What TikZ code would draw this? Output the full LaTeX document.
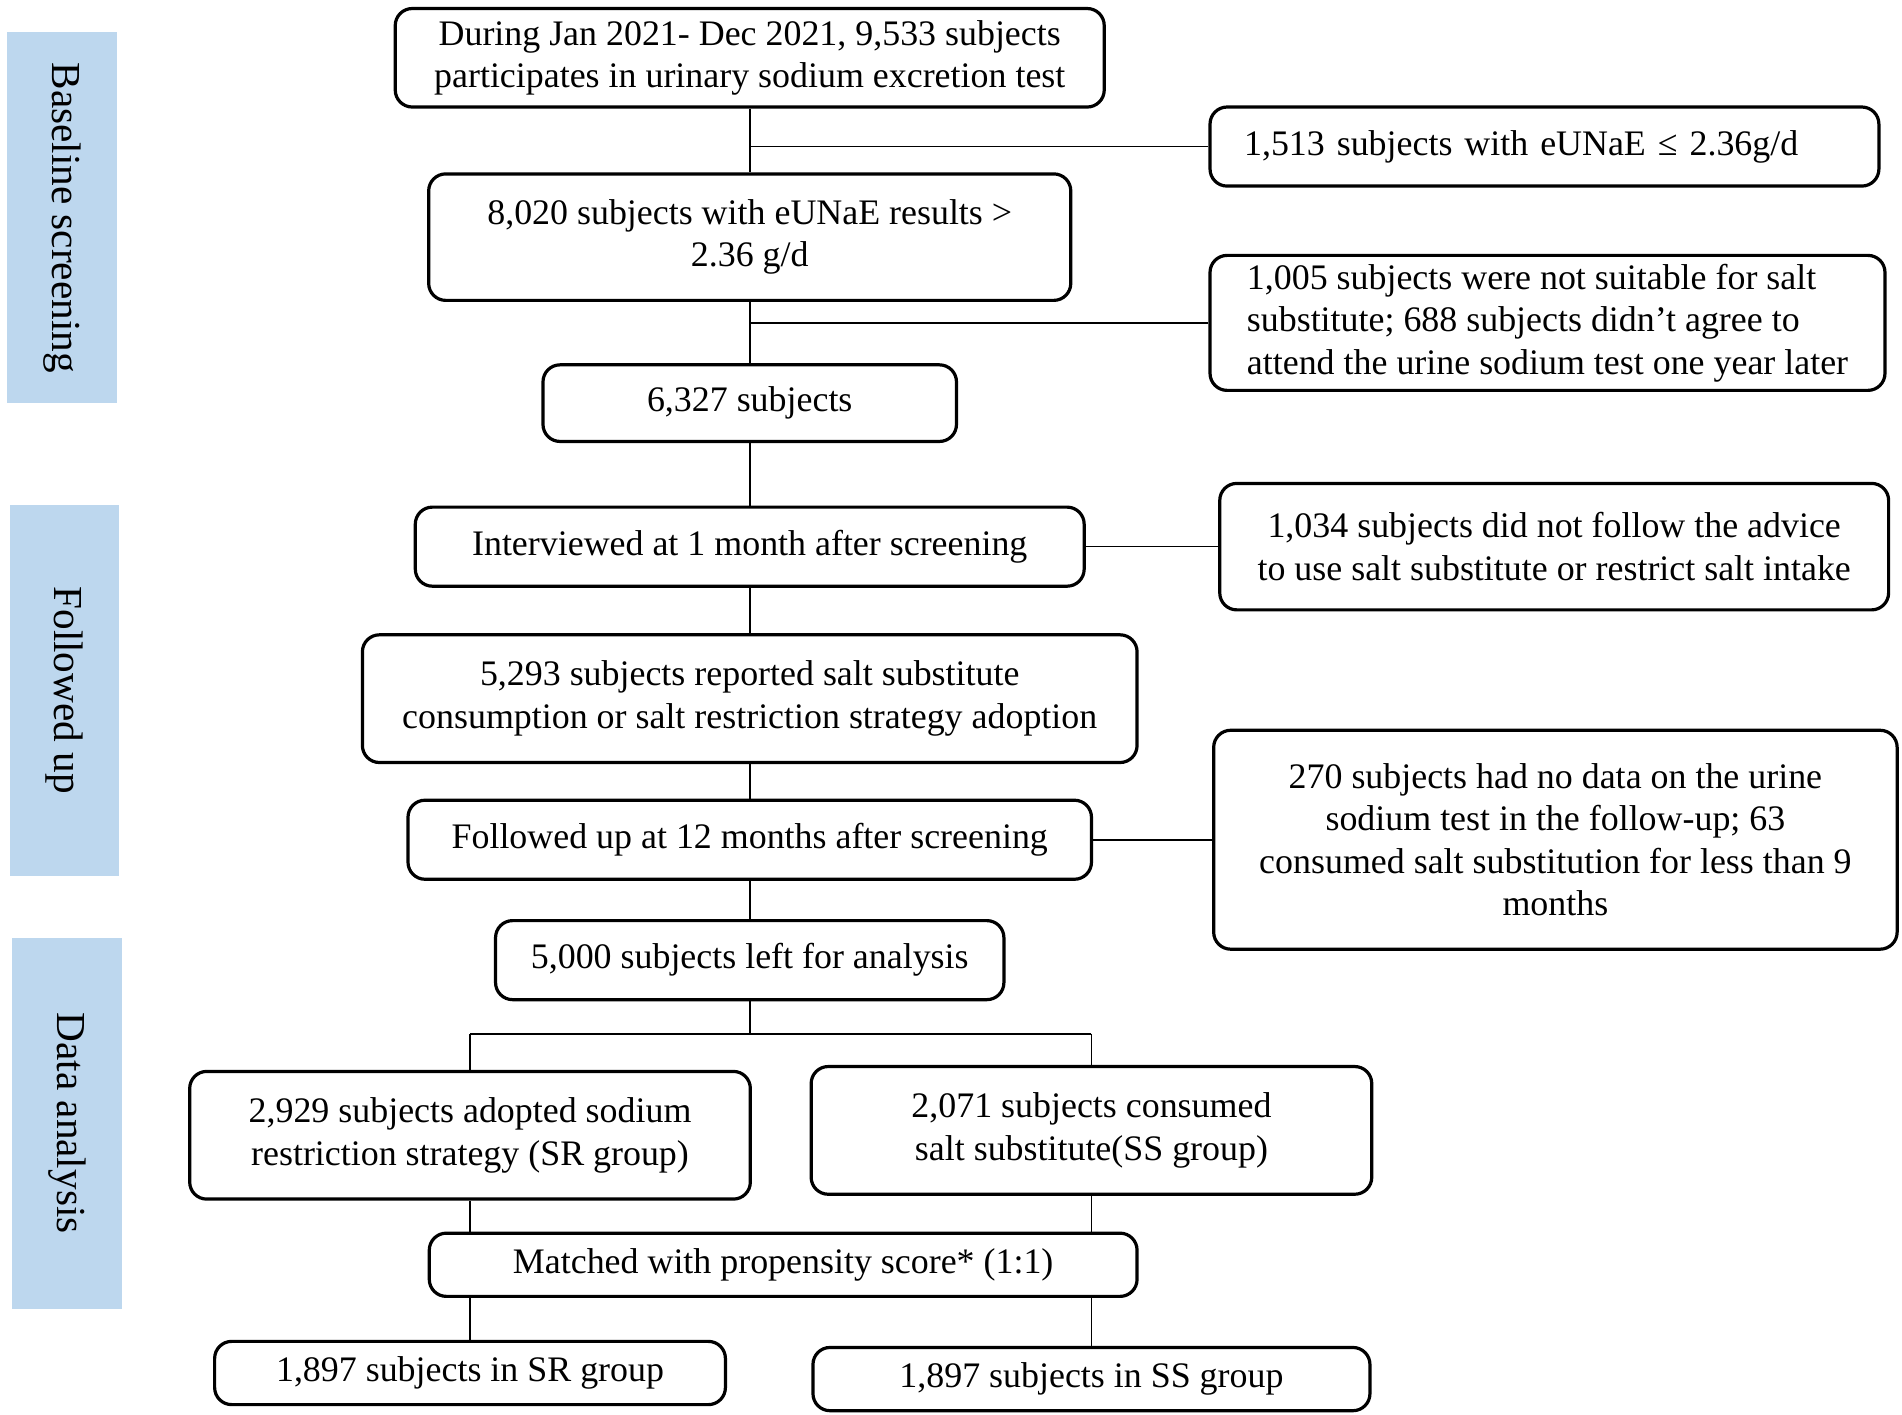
\documentclass[tikz,border=0pt]{standalone}
\usepackage{fontspec}
\setmainfont{Liberation Serif}
\usetikzlibrary{positioning}
\definecolor{barblue}{HTML}{BDD7EE}

\begin{document}
\begin{tikzpicture}[node distance=2cm, on grid,
    box/.style={draw, rounded corners=0.28cm, line width=1.5pt, align=center, inner sep=0pt,
      font=\fontsize{16.8}{19.9}\selectfont},
    bar/.style={fill=barblue, rotate=-90, minimum width=6.1cm, minimum height=1.8cm,
      inner sep=0pt, font=\fontsize{19.3}{23}\selectfont},
    link/.style={line width=0.75pt}]
            \useasboundingbox (0,0) rectangle (31.28,-23.26);
            % stage bars
            \node[bar](b1) at (1.02,-3.58){Baseline screening};
            \node[bar](b2) at (1.06,-11.35){Followed up};
            \node[bar](b3) at (1.10,-18.47){Data analysis};
            % main column
            \node[box, minimum width=11.66cm, minimum height=1.62cm](n1) at (12.33,-0.95){During Jan 2021- Dec 2021, 9,533 subjects\\participates in urinary sodium excretion test};
            \node[box, minimum width=10.56cm, minimum height=2.08cm, below=2.95cm of n1](n2){8,020 subjects with eUNaE results >\\2.36 g/d};
            \node[box, minimum width=6.8cm, minimum height=1.26cm, below=2.73cm of n2](n3){6,327 subjects};
            \node[box, minimum width=11cm, minimum height=1.3cm, below=2.36cm of n3](n4){Interviewed at 1 month after screening};
            \node[box, minimum width=12.74cm, minimum height=2.1cm, below=2.5cm of n4](n5){5,293 subjects reported salt substitute\\consumption or salt restriction strategy adoption};
            \node[box, minimum width=11.24cm, minimum height=1.3cm, below=2.32cm of n5](n6){Followed up at 12 months after screening};
            \node[box, minimum width=8.36cm, minimum height=1.3cm, below=1.98cm of n6](n7){5,000 subjects left for analysis};
            % exclusions
            \node[box, minimum width=11cm, minimum height=1.3cm, text width=9.88cm, align=left, below right=1.46cm and 13.07cm of n1](e1){1,513 subjects with eUNaE ≤ 2.36g/d};
            \node[box, minimum width=11.1cm, minimum height=2.22cm, align=left, below right=1.41cm and 13.12cm of n2](e2){1,005 subjects were not suitable for salt\\substitute; 688 subjects didn’t agree to\\attend the urine sodium test one year later};
            \node[box, minimum width=11cm, minimum height=2.08cm, right=13.23cm of n4](e3){1,034 subjects did not follow the advice\\to use salt substitute or restrict salt intake};
            \node[box, minimum width=11.24cm, minimum height=3.6cm, right=13.25cm of n6](e4){270 subjects had no data on the urine\\sodium test in the follow-up; 63\\consumed salt substitution for less than 9\\months};
            % groups
            \node[box, minimum width=9.22cm, minimum height=2.1cm, below left=2.88cm and 4.6cm of n7](g1){2,929 subjects adopted sodium\\restriction strategy (SR group)};
            \node[box, minimum width=9.22cm, minimum height=2.1cm, below right=2.8cm and 5.62cm of n7](g2){2,071 subjects consumed\\salt substitute(SS group)};
            \node[box, minimum width=11.64cm, minimum height=1.04cm, below right=5.01cm and 0.55cm of n7](m){Matched with propensity score* (1:1)};
            \node[box, minimum width=8.4cm, minimum height=1.04cm, below=3.91cm of g1](f1){1,897 subjects in SR group};
            \node[box, minimum width=9.16cm, minimum height=1.04cm, below=4.09cm of g2](f2){1,897 subjects in SS group};
            \coordinate[below=1.21cm of n7](split);
            \path[link]
            (n1) edge (n2)
            (n2) edge (n3)
            (n3) edge (n4)
            (n4) edge (n5)
            (n5) edge (n6)
            (n6) edge (n7)
            (n4) edge (e3)
            (n6) edge (e4);
            \draw[link] (n1.south |- e1.west) -- (e1.west);
            \draw[link] (n2.south |- e2.west) -- (e2.west);
            \draw[link] (n7) -- (split);
            \draw[link] (split -| g1) -- (split -| g2);
            \draw[link] (split -| g1) -- (g1);
            \draw[link] (split -| g2) -- (g2);
            \draw[link] (g1) -- (g1 |- m.north);
            \draw[link] (g2) -- (g2 |- m.north);
            \draw[link] (g1 |- m.south) -- (f1);
            \draw[link] (g2 |- m.south) -- (f2);
        \end{tikzpicture}
\end{document}
